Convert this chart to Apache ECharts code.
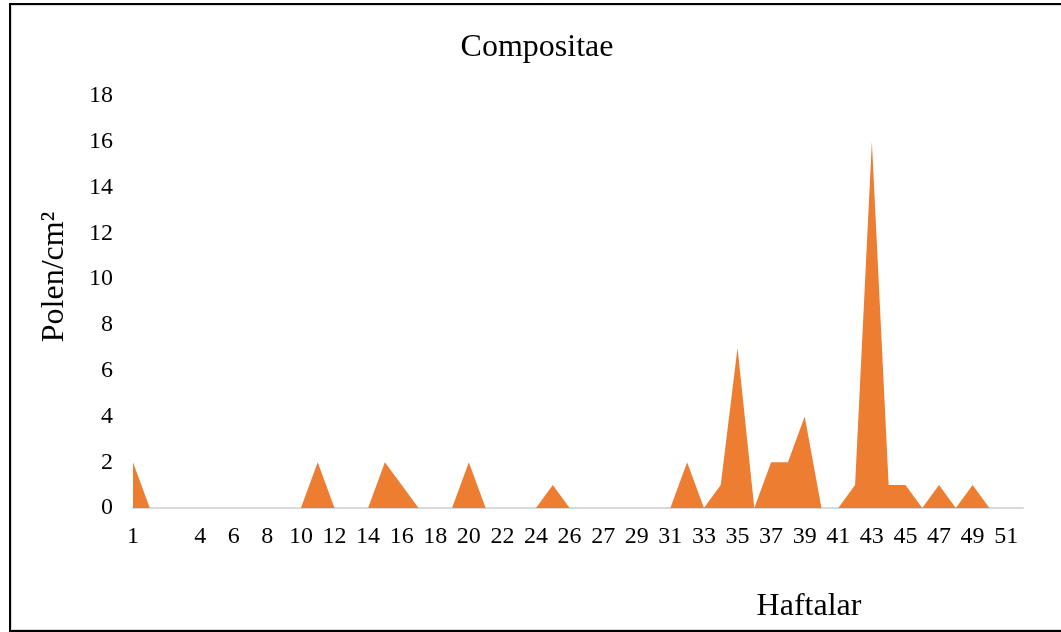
<!DOCTYPE html>
<html>
<head>
<meta charset="utf-8">
<script src="https://cdn.jsdelivr.net/npm/echarts@6/dist/echarts.min.js"></script>
<style>
  html, body { margin: 0; padding: 0; background: #fff; }
  #chart { width: 1061px; height: 632px; }
</style>
</head>
<body>
<div id="chart"></div>
<script>
// week labels as they sit on the axis (two blank slots in the source sheet)
const weeks = [
  '1', '2', '', '3', '4', '5', '6', '7', '8', '9', '10', '11', '12', '13', '14',
  '15', '16', '17', '18', '19', '20', '21', '22', '23', '24', '25', '26', '',
  '27', '28', '29', '30', '31', '32', '33', '34', '35', '36', '37', '38', '39',
  '40', '41', '42', '43', '44', '45', '46', '47', '48', '49', '50', '51', '52'
];
const polen = [
  2, 0, 0, 0, 0, 0, 0, 0, 0, 0, 0, 2, 0, 0, 0,
  2, 1, 0, 0, 0, 2, 0, 0, 0, 0, 1, 0, 0,
  0, 0, 0, 0, 0, 2, 0, 1, 7, 0, 2, 2, 4,
  0, 0, 1, 16, 1, 1, 0, 1, 0, 1, 0, 0, 0
];
const yTicks = { min: 0, max: 18, step: 2 };

const serif = '"Liberation Serif", "Times New Roman", serif';

const chart = echarts.init(document.getElementById('chart'));
chart.setOption({
  animation: false,
  backgroundColor: '#fff',
  grid: { left: 133, right: 38, top: 96, bottom: 124 },
  graphic: [
    {
      type: 'rect',
      shape: { x: 10, y: 4, width: 1080, height: 627 },
      style: { fill: null, stroke: '#000', lineWidth: 2 }
    },
    {
      type: 'rect',
      shape: { x: 11.5, y: 5.5, width: 1080, height: 624 },
      style: { fill: null, stroke: '#d9d9d9', lineWidth: 1 }
    },
    {
      type: 'text',
      style: {
        text: 'Compositae', x: 537, y: 48, font: '32px ' + serif,
        fill: '#000', textAlign: 'center', textVerticalAlign: 'middle'
      }
    },
    {
      type: 'text',
      x: 55, y: 277, rotation: Math.PI / 2,
      style: {
        text: 'Polen/cm²', x: 0, y: 0, font: '32px ' + serif,
        fill: '#000', textAlign: 'center', textVerticalAlign: 'middle'
      }
    },
    {
      type: 'text',
      style: {
        text: 'Haftalar', x: 809, y: 607, font: '32px ' + serif,
        fill: '#000', textAlign: 'center', textVerticalAlign: 'middle'
      }
    }
  ],
  xAxis: {
    type: 'category',
    data: weeks,
    boundaryGap: false,
    axisLine: { lineStyle: { color: '#d9d9d9', width: 2 } },
    axisTick: { show: false },
    axisLabel: {
      interval: 1,
      margin: 17,
      color: '#000',
      fontSize: 24,
      fontFamily: serif
    },
    splitLine: { show: false }
  },
  yAxis: {
    type: 'value',
    min: yTicks.min,
    max: yTicks.max,
    interval: yTicks.step,
    axisLine: { show: false },
    axisTick: { show: false },
    splitLine: { show: false },
    axisLabel: {
      margin: 20,
      padding: [4, 0, 0, 0],
      color: '#000',
      fontSize: 24,
      fontFamily: serif
    }
  },
  series: [
    {
      type: 'line',
      data: polen,
      symbol: 'none',
      lineStyle: { width: 0 },
      areaStyle: { color: '#ED7D31', opacity: 1 },
      z: 1
    }
  ]
});
</script>
</body>
</html>
